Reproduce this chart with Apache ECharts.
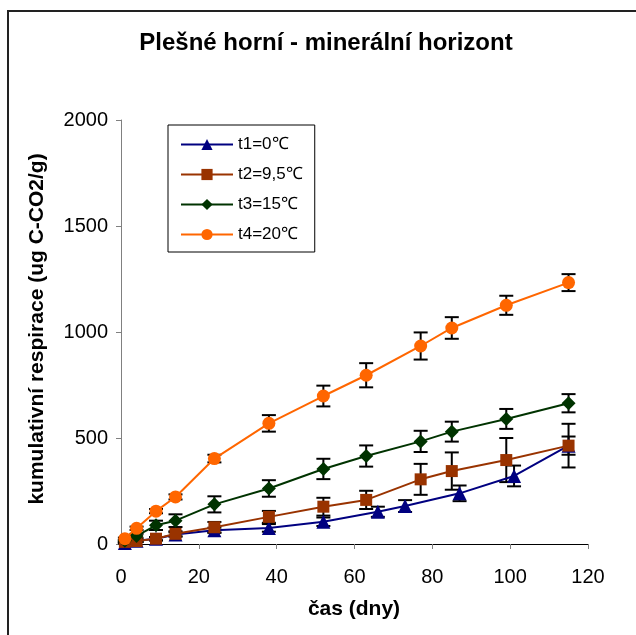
<!DOCTYPE html>
<html>
<head>
<meta charset="utf-8">
<script src="https://cdn.jsdelivr.net/npm/echarts@6/dist/echarts.min.js"></script>
<style>
  html, body { margin: 0; padding: 0; background: #fff; }
  #chart { width: 636px; height: 635px; }
</style>
</head>
<body>
<div id="chart"></div>
<script>
// Sampling days (t1 was measured on a slightly different schedule)
const daysMain = [1, 4, 9, 14, 24, 38, 52, 63, 77, 85, 99, 115];
const daysT1   = [1, 4, 9, 14, 24, 38, 52, 66, 73, 87, 101, 115];

// Cumulative respiration (ug C-CO2/g) and standard deviations
const t1Mean = [5, 15, 25, 45, 65, 76, 105, 152, 179, 239, 321, 464];
const t1Err  = [3, 5, 8, 10, 12, 18, 20, 24, 28, 37, 49, 43];
const t2Mean = [10, 14, 25, 48, 79, 128, 176, 208, 305, 344, 396, 464];
const t2Err  = [4, 5, 8, 12, 25, 28, 42, 43, 73, 88, 104, 103];
const t3Mean = [15, 38, 88, 110, 187, 262, 354, 415, 484, 530, 590, 664];
const t3Err  = [5, 10, 22, 30, 38, 39, 48, 50, 50, 47, 47, 43];
const t4Mean = [25, 74, 155, 222, 403, 569, 698, 796, 934, 1019, 1126, 1233];
const t4Err  = [5, 8, 10, 12, 18, 39, 49, 57, 64, 51, 45, 40];

const seriesNames = ['t1=0\u2103', 't2=9,5\u2103', 't3=15\u2103', 't4=20\u2103'];

const FONT = 'Arial, "Liberation Sans", sans-serif';

function pairs(xs, ys) { return xs.map((x, i) => [x, ys[i]]); }
function triples(xs, ys, es) { return xs.map((x, i) => [x, ys[i], es[i]]); }

function renderErrorBar(params, api) {
  const x = api.value(0), y = api.value(1), e = api.value(2);
  const hi = api.coord([x, y + e]);
  const lo = api.coord([x, Math.max(0, y - e)]);
  const hw = 7;
  const st = { stroke: '#000', lineWidth: 2 };
  const children = [
    { type: 'line', shape: { x1: hi[0], y1: hi[1], x2: lo[0], y2: lo[1] }, style: st },
    { type: 'line', shape: { x1: hi[0] - hw, y1: hi[1], x2: hi[0] + hw, y2: hi[1] }, style: st }
  ];
  if (y - e > 0) {
    children.push({ type: 'line', shape: { x1: lo[0] - hw, y1: lo[1], x2: lo[0] + hw, y2: lo[1] }, style: st });
  }
  return { type: 'group', children };
}

function errorSeries(xs, ys, es) {
  return {
    type: 'custom',
    data: triples(xs, ys, es),
    encode: { x: 0, y: 1 },
    renderItem: renderErrorBar,
    z: 1,
    silent: true
  };
}

function lineSeries(name, xs, ys, color, symbol, size) {
  return {
    name, type: 'line',
    data: pairs(xs, ys),
    symbol, symbolSize: size,
    lineStyle: { color, width: 2 },
    itemStyle: { color, borderWidth: 0 },
    z: 3
  };
}

const chart = echarts.init(document.getElementById('chart'), null, { renderer: 'canvas' });
chart.setOption({
  animation: false,
  backgroundColor: '#fff',
  grid: { left: 121, right: 48, top: 120, bottom: 91, containLabel: false },
  xAxis: {
    type: 'value', min: 0, max: 120, interval: 20,
    axisLine: { show: true, onZero: false, lineStyle: { color: '#000', width: 1 } },
    axisTick: { show: true, inside: false, length: 5, lineStyle: { color: '#808080' } },
    axisLabel: { color: '#000', fontSize: 20, fontFamily: FONT, margin: 23 },
    splitLine: { show: false }
  },
  yAxis: {
    type: 'value', min: 0, max: 2000, interval: 500,
    axisLine: { show: true, lineStyle: { color: '#808080', width: 1 } },
    axisTick: { show: true, inside: false, length: 5, lineStyle: { color: '#808080' } },
    axisLabel: { color: '#000', fontSize: 20, fontFamily: FONT, margin: 13, formatter: v => String(v) },
    splitLine: { show: false }
  },
  legend: {
    data: seriesNames,
    orient: 'vertical',
    left: 168, top: 125,
    padding: [11, 12, 9, 12],
    itemWidth: 52, itemHeight: 14, itemGap: 13,
    backgroundColor: '#fff',
    borderColor: '#000', borderWidth: 1,
    textStyle: { color: '#000', fontSize: 17, fontFamily: FONT, lineHeight: 17 }
  },
  series: [
    errorSeries(daysT1, t1Mean, t1Err),
    errorSeries(daysMain, t2Mean, t2Err),
    errorSeries(daysMain, t3Mean, t3Err),
    errorSeries(daysMain, t4Mean, t4Err),
    lineSeries(seriesNames[0], daysT1, t1Mean, '#000080', 'triangle', 14),
    lineSeries(seriesNames[1], daysMain, t2Mean, '#993300', 'rect', 12),
    lineSeries(seriesNames[2], daysMain, t3Mean, '#003300', 'diamond', 14),
    lineSeries(seriesNames[3], daysMain, t4Mean, '#FF6600', 'circle', 13)
  ],
  graphic: [
    {
      type: 'rect', silent: true, z: 0,
      shape: { x: 8, y: 11, width: 700, height: 700 },
      style: { fill: null, stroke: '#222', lineWidth: 2 }
    },
    {
      type: 'text', x: 326, y: 43, z: 10,
      style: {
        text: 'Plešné horní - minerální horizont',
        fill: '#000', font: 'bold 24px ' + FONT,
        textAlign: 'center', textVerticalAlign: 'middle'
      }
    },
    {
      type: 'text', x: 354, y: 609, z: 10,
      style: {
        text: 'čas (dny)', fill: '#000', font: 'bold 21px ' + FONT,
        textAlign: 'center', textVerticalAlign: 'middle'
      }
    },
    {
      type: 'text', x: 37, y: 329, rotation: Math.PI / 2, z: 10,
      style: {
        text: 'kumulativní respirace (ug C-CO2/g)', fill: '#000', font: 'bold 21px ' + FONT,
        textAlign: 'center', textVerticalAlign: 'middle'
      }
    }
  ]
});
</script>
</body>
</html>
